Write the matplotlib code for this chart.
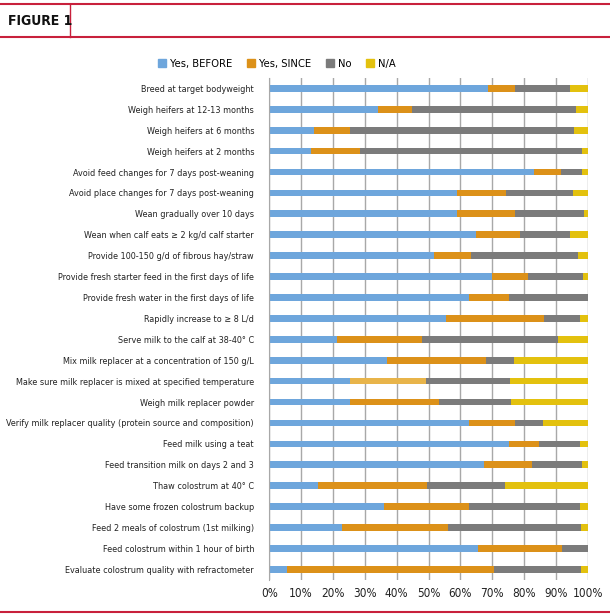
"""Figure 1: adoption of calf-rearing practices (stacked horizontal bars)."""
import matplotlib
matplotlib.use("Agg")
import matplotlib.pyplot as plt
from matplotlib.lines import Line2D
from matplotlib.patches import Patch

plt.rcParams["font.family"] = ["Liberation Sans Narrow", "DejaVu Sans"]
plt.rcParams["font.stretch"] = "condensed"

practices = [
    "Breed at target bodyweight",
    "Weigh heifers at 12-13 months",
    "Weigh heifers at 6 months",
    "Weigh heifers at 2 months",
    "Avoid feed changes for 7 days post-weaning",
    "Avoid place changes for 7 days post-weaning",
    "Wean gradually over 10 days",
    "Wean when calf eats \u2265 2 kg/d calf starter",
    "Provide 100-150 g/d of fibrous hay/straw",
    "Provide fresh starter feed in the first days of life",
    "Provide fresh water in the first days of life",
    "Rapidly increase to \u2265 8 L/d",
    "Serve milk to the calf at 38-40\u00b0 C",
    "Mix milk replacer at a concentration of 150 g/L",
    "Make sure milk replacer is mixed at specified temperature",
    "Weigh milk replacer powder",
    "Verify milk replacer quality (protein source and composition)",
    "Feed milk using a teat",
    "Feed transition milk on days 2 and 3",
    "Thaw colostrum at 40\u00b0 C",
    "Have some frozen colostrum backup",
    "Feed 2 meals of colostrum (1st milking)",
    "Feed colostrum within 1 hour of birth",
    "Evaluate colostrum quality with refractometer",
]
yes_before = [68.6, 34.1, 13.9, 13.2, 83.0, 58.8, 59.0, 64.8, 51.6, 70.1, 62.8, 55.4,
              21.2, 37.1, 25.3, 25.2, 62.8, 75.2, 67.5, 15.4, 36.1, 22.7, 65.7, 5.7]
yes_since = [8.7, 10.8, 11.6, 15.2, 8.6, 15.4, 18.3, 13.8, 11.6, 11.2, 12.6, 30.8,
             26.7, 31.0, 24.0, 28.1, 14.4, 9.6, 15.0, 34.0, 26.7, 33.3, 26.2, 64.8]
no = [17.1, 51.4, 70.1, 69.7, 6.5, 21.3, 21.4, 15.8, 33.6, 17.3, 24.6, 11.3,
      42.9, 8.9, 26.4, 22.7, 8.8, 12.9, 15.6, 24.7, 34.8, 42.0, 8.1, 27.4]
na = [5.6, 3.7, 4.4, 1.9, 1.9, 4.5, 1.3, 5.6, 3.2, 1.4, 0.0, 2.5,
      9.2, 23.0, 24.3, 24.0, 14.0, 2.3, 1.9, 25.9, 2.4, 2.0, 0.0, 2.1]
series_names = ["Yes, BEFORE", "Yes, SINCE", "No", "N/A"]
x_ticks = [0, 10, 20, 30, 40, 50, 60, 70, 80, 90, 100]

BLUE, ORANGE, GRAY, YELLOW = "#6ea6dc", "#dc9119", "#7b7b7b", "#e3c10e"
LIGHT_ORANGE = "#e8b44a"
RED = "#c8203c"
GRID = "#a8a8a8"
TXT = "#222222"

fig = plt.figure(figsize=(6.1, 6.15), dpi=100)
ax = fig.add_axes([269.3 / 610, 1 - 579.8 / 615, 318.4 / 610, 501.9 / 615])

y = list(range(len(practices)))
since_colors = [ORANGE] * len(practices)
since_colors[practices.index("Make sure milk replacer is mixed at specified temperature")] = LIGHT_ORANGE

left = [0.0] * len(practices)
for vals, col in ((yes_before, BLUE), (yes_since, since_colors), (no, GRAY), (na, YELLOW)):
    ax.barh(y, vals, left=left, height=0.32, color=col, linewidth=0)
    left = [a + b for a, b in zip(left, vals)]

ax.set_xlim(0, 100)
ax.set_ylim(len(practices) - 0.5, -0.5)
ax.set_xticks(x_ticks)
ax.set_xticklabels([f"{t}%" for t in x_ticks], fontsize=8.5, color=TXT)
ax.set_yticks(y)
ylabels = ax.set_yticklabels(practices, fontsize=8.5, color=TXT)
ax.tick_params(axis="y", length=0, pad=11)
ax.tick_params(axis="x", length=0, pad=5)
ax.set_axisbelow(True)
ax.grid(axis="x", color=GRID, lw=1)
for s in ("top", "bottom", "right"):
    ax.spines[s].set_visible(False)
ax.spines["left"].set_color(GRID)

# shrink category labels if the installed font is wider than the original
renderer = fig.canvas.get_renderer()
widest = max(t.get_window_extent(renderer).width for t in ylabels)
if widest > 248:
    for t in ylabels:
        t.set_fontsize(8.5 * 248 / widest)

handles = [Patch(color=c) for c in (BLUE, ORANGE, GRAY, YELLOW)]
fig.legend(handles, series_names, loc="center", bbox_to_anchor=(277 / 610, 1 - 64 / 615),
           ncol=4, frameon=False, fontsize=8, handlelength=0.75, handleheight=0.75,
           handletextpad=0.35, columnspacing=1.3)

# header band and bottom rule
for yy in (3.5, 37):
    fig.add_artist(Line2D([0, 1], [1 - yy / 615] * 2, color=RED, lw=1.5))
fig.add_artist(Line2D([70 / 610] * 2, [1 - 3.5 / 615, 1 - 37 / 615], color=RED, lw=1))
fig.add_artist(Line2D([0, 1], [1 - 612 / 615] * 2, color=RED, lw=1.5))
fig.text(8 / 610, 1 - 21 / 615, "FIGURE 1", fontsize=10, fontweight="bold",
         va="center", ha="left", color="#111111")

fig.savefig("out.png", dpi=100)
